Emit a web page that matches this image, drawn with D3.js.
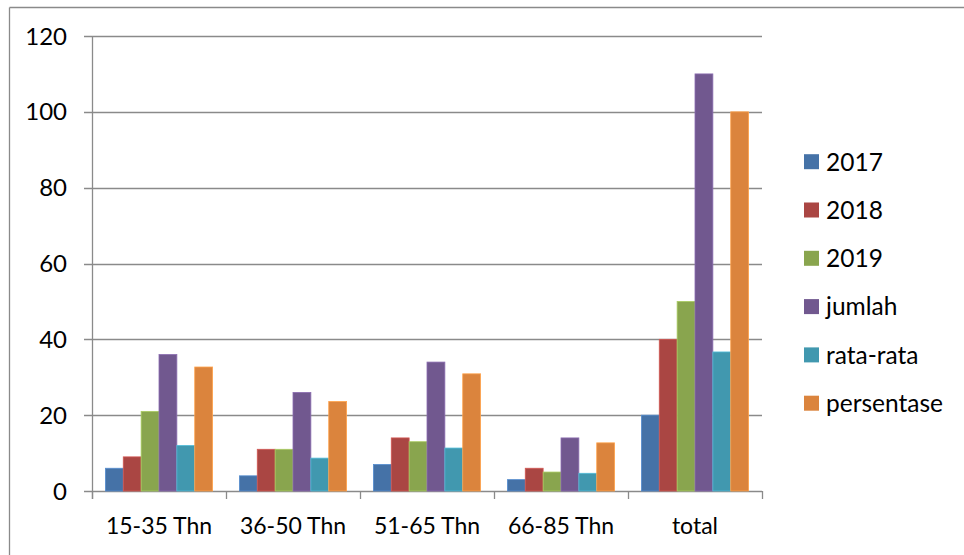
<!DOCTYPE html>
<html>
<head>
<meta charset="utf-8">
<script src="https://cdn.jsdelivr.net/npm/d3@7"></script>
<style>
  body { margin: 0; background: #fff; }
  svg { display: block; }
  text { font-family: "Lato", "Open Sans", sans-serif; fill: #000; }
</style>
</head>
<body>
<svg id="chart" width="964" height="555"></svg>
<script>
const categories = ["15-35 Thn", "36-50 Thn", "51-65 Thn", "66-85 Thn", "total"];
const seriesNames = ["2017", "2018", "2019", "jumlah", "rata-rata", "persentase"];
const v2017 = [6, 4, 7, 3, 20];
const v2018 = [9, 11, 14, 6, 40];
const v2019 = [21, 11, 13, 5, 50];
const vJumlah = [36, 26, 34, 14, 110];
const vRata = [12, 8.67, 11.33, 4.67, 36.67];
const vPersen = [32.7, 23.6, 30.9, 12.7, 100];
const yTicks = [0, 20, 40, 60, 80, 100, 120];
const colors = ["#4572A7", "#AA4643", "#89A54E", "#71588F", "#4198AF", "#DB843D"];

const seriesValues = [v2017, v2018, v2019, vJumlah, vRata, vPersen];

const svg = d3.select("#chart");
const pLeft = 92, pRight = 762, pTop = 36, pBottom = 491;
const lineColor = "#8a8a8a";

// outer frame
svg.append("line").attr("x1", 9.5).attr("x2", 964).attr("y1", 7.5).attr("y2", 7.5)
  .attr("stroke", lineColor).attr("stroke-width", 1.3);
svg.append("line").attr("x1", 9.5).attr("x2", 9.5).attr("y1", 7.5).attr("y2", 555)
  .attr("stroke", lineColor).attr("stroke-width", 1.3);

const x0 = d3.scaleBand().domain(categories).range([pLeft, pRight]).paddingInner(0).paddingOuter(0);
const step = x0.bandwidth();
const barW = step / 7.5;
const x1 = d3.scaleBand().domain(seriesNames).range([0.75 * barW, step - 0.75 * barW]).padding(0);
const y = d3.scaleLinear().domain([0, 120]).range([pBottom, pTop]);

// gridlines
svg.append("g").selectAll("line").data(yTicks).join("line")
  .attr("x1", pLeft - 8).attr("x2", pRight)
  .attr("y1", d => Math.round(y(d)) + 0.5).attr("y2", d => Math.round(y(d)) + 0.5)
  .attr("stroke", lineColor).attr("stroke-width", 1.3);

// y axis line
svg.append("line").attr("x1", pLeft + 0.5).attr("x2", pLeft + 0.5).attr("y1", pTop).attr("y2", pBottom + 8)
  .attr("stroke", lineColor).attr("stroke-width", 1.3);

// x ticks
const xTickPos = categories.map(c => x0(c)).concat([pRight]);
svg.append("g").selectAll("line").data(xTickPos).join("line")
  .attr("x1", d => Math.round(d) + 0.5).attr("x2", d => Math.round(d) + 0.5)
  .attr("y1", pBottom).attr("y2", pBottom + 8)
  .attr("stroke", lineColor).attr("stroke-width", 1.3);

// y labels
svg.append("g").selectAll("text").data(yTicks).join("text")
  .attr("x", 67).attr("y", d => y(d)).attr("dy", "0.36em")
  .attr("text-anchor", "end").style("font-size", "24px")
  .text(d => d);

// bars
const groups = svg.append("g").selectAll("g").data(seriesNames).join("g")
  .attr("fill", (d, i) => colors[i])
  .attr("stroke", (d, i) => d3.color(colors[i]).brighter(0.6))
  .attr("stroke-width", 0.8);
groups.each(function(s, si) {
  d3.select(this).selectAll("rect").data(seriesValues[si]).join("rect")
    .attr("x", (d, ci) => x0(categories[ci]) + x1(s))
    .attr("width", x1.bandwidth())
    .attr("y", d => y(d))
    .attr("height", d => pBottom - y(d));
});

// x labels
svg.append("g").selectAll("text").data(categories).join("text")
  .attr("x", d => x0(d) + step / 2).attr("y", 534)
  .attr("text-anchor", "middle").style("font-size", "23px")
  .text(d => d);

// legend
const legend = svg.append("g").selectAll("g").data(seriesNames).join("g")
  .attr("transform", (d, i) => `translate(804, ${161.7 + i * 48.3})`);
legend.append("rect").attr("x", 0).attr("y", -7.5).attr("width", 15).attr("height", 15)
  .attr("fill", (d, i) => colors[i]);
legend.append("text").attr("x", 22).attr("y", 0).attr("dy", "0.36em")
  .style("font-size", "24.5px").text(d => d);
</script>
</body>
</html>
